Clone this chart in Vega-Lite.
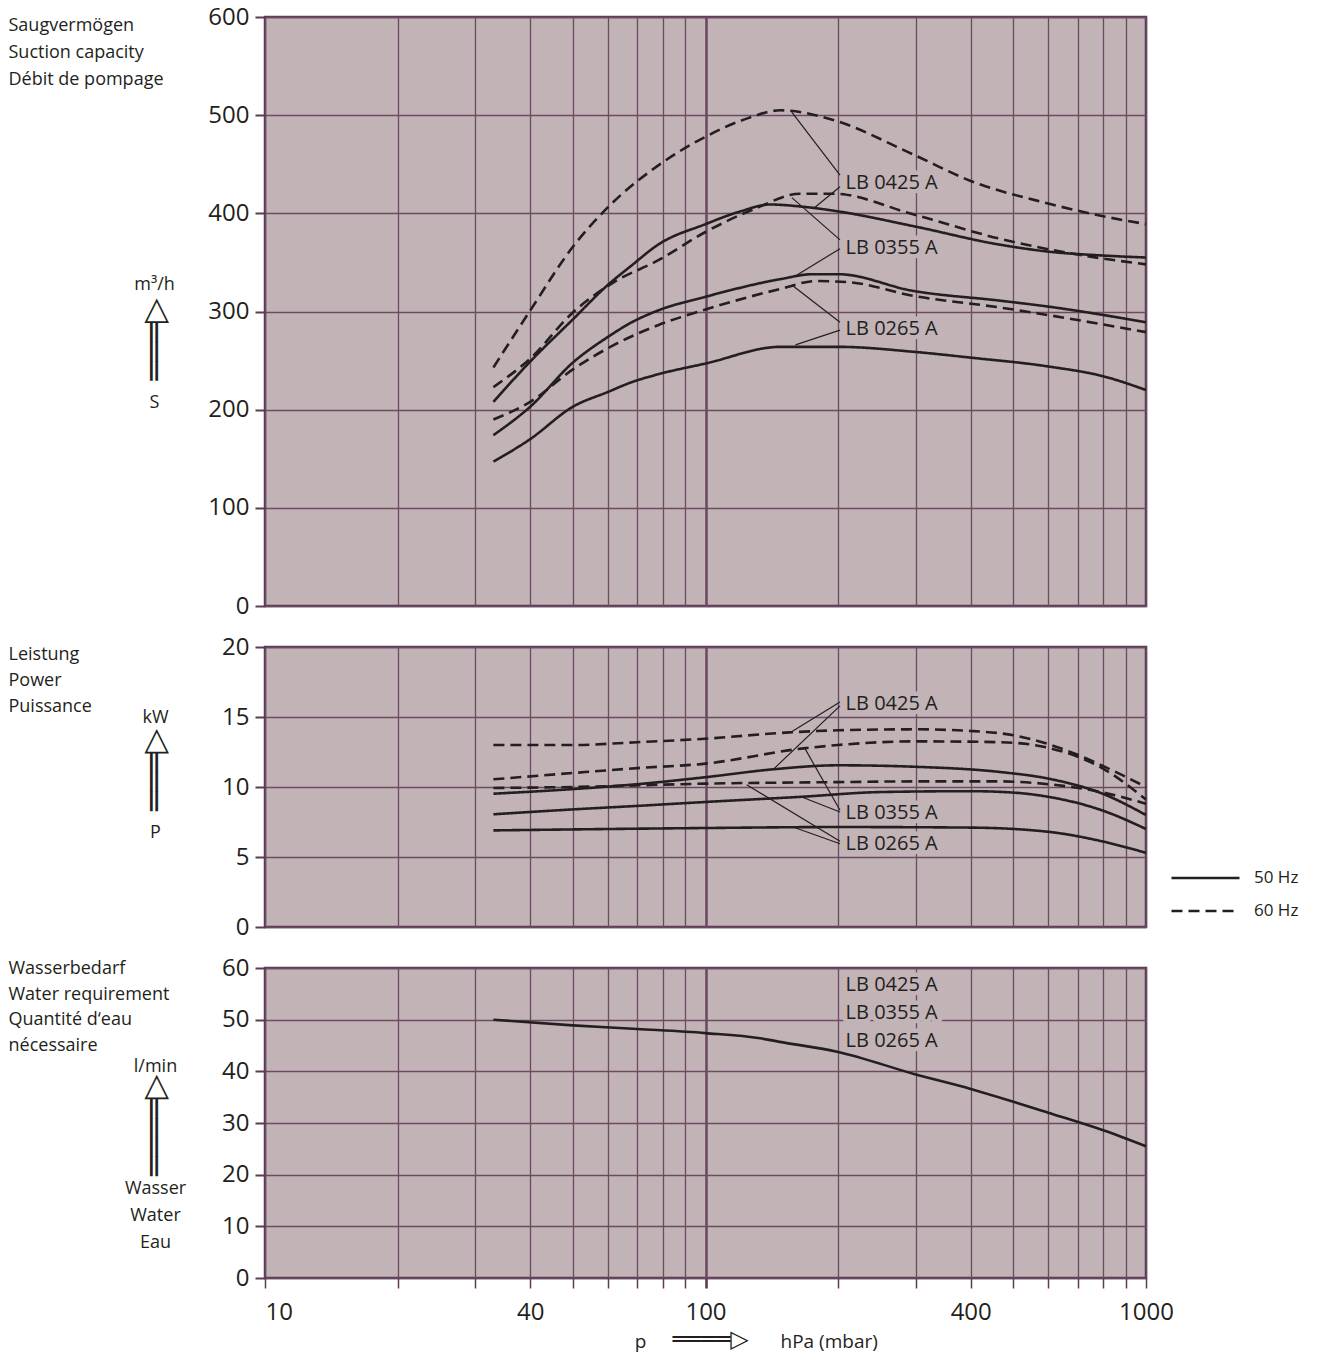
{
  "$schema": "https://vega.github.io/schema/vega-lite/v6.json",
  "background": "white",
  "padding": {"left": 6, "top": 3, "right": 5, "bottom": 0},
  "bounds": "flush",
  "spacing": 41,
  "resolve": {"scale": {"strokeDash": "independent"}, "legend": {"strokeDash": "independent"}},
  "config": {
    "view": {"fill": "#c2b3b7", "stroke": "#5c3b53", "strokeWidth": 2.5},
    "axis": {"labelFont": "Open Sans", "titleFont": "Open Sans", "labelColor": "#231f20", "titleColor": "#231f20", "titleFontWeight": "normal", "tickColor": "#5c3b53", "gridColor": "#6b4b60", "gridOpacity": 1, "domain": false, "labelFontSize": 24, "titleFontSize": 18}
  },
  "datasets": {
    "suction": [
      {"p": 33, "v": 243, "model": "LB 0425 A", "freq": "60 Hz"},
      {"p": 40, "v": 301, "model": "LB 0425 A", "freq": "60 Hz"},
      {"p": 50, "v": 366, "model": "LB 0425 A", "freq": "60 Hz"},
      {"p": 60, "v": 406, "model": "LB 0425 A", "freq": "60 Hz"},
      {"p": 80, "v": 452, "model": "LB 0425 A", "freq": "60 Hz"},
      {"p": 100, "v": 478, "model": "LB 0425 A", "freq": "60 Hz"},
      {"p": 125, "v": 497, "model": "LB 0425 A", "freq": "60 Hz"},
      {"p": 148, "v": 505, "model": "LB 0425 A", "freq": "60 Hz"},
      {"p": 195, "v": 495, "model": "LB 0425 A", "freq": "60 Hz"},
      {"p": 296, "v": 460, "model": "LB 0425 A", "freq": "60 Hz"},
      {"p": 400, "v": 433, "model": "LB 0425 A", "freq": "60 Hz"},
      {"p": 600, "v": 410, "model": "LB 0425 A", "freq": "60 Hz"},
      {"p": 800, "v": 397, "model": "LB 0425 A", "freq": "60 Hz"},
      {"p": 1000, "v": 389, "model": "LB 0425 A", "freq": "60 Hz"},
      {"p": 33, "v": 208, "model": "LB 0425 A", "freq": "50 Hz"},
      {"p": 40, "v": 249, "model": "LB 0425 A", "freq": "50 Hz"},
      {"p": 50, "v": 292, "model": "LB 0425 A", "freq": "50 Hz"},
      {"p": 60, "v": 327, "model": "LB 0425 A", "freq": "50 Hz"},
      {"p": 68, "v": 347, "model": "LB 0425 A", "freq": "50 Hz"},
      {"p": 78, "v": 368, "model": "LB 0425 A", "freq": "50 Hz"},
      {"p": 100, "v": 389, "model": "LB 0425 A", "freq": "50 Hz"},
      {"p": 120, "v": 402, "model": "LB 0425 A", "freq": "50 Hz"},
      {"p": 140, "v": 409, "model": "LB 0425 A", "freq": "50 Hz"},
      {"p": 164, "v": 407, "model": "LB 0425 A", "freq": "50 Hz"},
      {"p": 200, "v": 402, "model": "LB 0425 A", "freq": "50 Hz"},
      {"p": 296, "v": 387, "model": "LB 0425 A", "freq": "50 Hz"},
      {"p": 467, "v": 368, "model": "LB 0425 A", "freq": "50 Hz"},
      {"p": 600, "v": 361, "model": "LB 0425 A", "freq": "50 Hz"},
      {"p": 800, "v": 357, "model": "LB 0425 A", "freq": "50 Hz"},
      {"p": 1000, "v": 355, "model": "LB 0425 A", "freq": "50 Hz"},
      {"p": 33, "v": 223, "model": "LB 0355 A", "freq": "60 Hz"},
      {"p": 40, "v": 252, "model": "LB 0355 A", "freq": "60 Hz"},
      {"p": 50, "v": 299, "model": "LB 0355 A", "freq": "60 Hz"},
      {"p": 62, "v": 330, "model": "LB 0355 A", "freq": "60 Hz"},
      {"p": 78, "v": 352, "model": "LB 0355 A", "freq": "60 Hz"},
      {"p": 100, "v": 381, "model": "LB 0355 A", "freq": "60 Hz"},
      {"p": 130, "v": 405, "model": "LB 0355 A", "freq": "60 Hz"},
      {"p": 164, "v": 420, "model": "LB 0355 A", "freq": "60 Hz"},
      {"p": 195, "v": 420, "model": "LB 0355 A", "freq": "60 Hz"},
      {"p": 296, "v": 399, "model": "LB 0355 A", "freq": "60 Hz"},
      {"p": 467, "v": 374, "model": "LB 0355 A", "freq": "60 Hz"},
      {"p": 700, "v": 358, "model": "LB 0355 A", "freq": "60 Hz"},
      {"p": 1000, "v": 348, "model": "LB 0355 A", "freq": "60 Hz"},
      {"p": 33, "v": 174, "model": "LB 0355 A", "freq": "50 Hz"},
      {"p": 40, "v": 203, "model": "LB 0355 A", "freq": "50 Hz"},
      {"p": 50, "v": 248, "model": "LB 0355 A", "freq": "50 Hz"},
      {"p": 60, "v": 274, "model": "LB 0355 A", "freq": "50 Hz"},
      {"p": 68, "v": 289, "model": "LB 0355 A", "freq": "50 Hz"},
      {"p": 78, "v": 301, "model": "LB 0355 A", "freq": "50 Hz"},
      {"p": 100, "v": 315, "model": "LB 0355 A", "freq": "50 Hz"},
      {"p": 148, "v": 333, "model": "LB 0355 A", "freq": "50 Hz"},
      {"p": 175, "v": 338, "model": "LB 0355 A", "freq": "50 Hz"},
      {"p": 200, "v": 338, "model": "LB 0355 A", "freq": "50 Hz"},
      {"p": 296, "v": 321, "model": "LB 0355 A", "freq": "50 Hz"},
      {"p": 467, "v": 311, "model": "LB 0355 A", "freq": "50 Hz"},
      {"p": 600, "v": 305, "model": "LB 0355 A", "freq": "50 Hz"},
      {"p": 1000, "v": 289, "model": "LB 0355 A", "freq": "50 Hz"},
      {"p": 33, "v": 190, "model": "LB 0265 A", "freq": "60 Hz"},
      {"p": 40, "v": 208, "model": "LB 0265 A", "freq": "60 Hz"},
      {"p": 50, "v": 241, "model": "LB 0265 A", "freq": "60 Hz"},
      {"p": 62, "v": 266, "model": "LB 0265 A", "freq": "60 Hz"},
      {"p": 78, "v": 286, "model": "LB 0265 A", "freq": "60 Hz"},
      {"p": 100, "v": 302, "model": "LB 0265 A", "freq": "60 Hz"},
      {"p": 148, "v": 323, "model": "LB 0265 A", "freq": "60 Hz"},
      {"p": 178, "v": 331, "model": "LB 0265 A", "freq": "60 Hz"},
      {"p": 210, "v": 330, "model": "LB 0265 A", "freq": "60 Hz"},
      {"p": 296, "v": 316, "model": "LB 0265 A", "freq": "60 Hz"},
      {"p": 467, "v": 304, "model": "LB 0265 A", "freq": "60 Hz"},
      {"p": 1000, "v": 279, "model": "LB 0265 A", "freq": "60 Hz"},
      {"p": 33, "v": 147, "model": "LB 0265 A", "freq": "50 Hz"},
      {"p": 40, "v": 170, "model": "LB 0265 A", "freq": "50 Hz"},
      {"p": 50, "v": 203, "model": "LB 0265 A", "freq": "50 Hz"},
      {"p": 60, "v": 218, "model": "LB 0265 A", "freq": "50 Hz"},
      {"p": 68, "v": 228, "model": "LB 0265 A", "freq": "50 Hz"},
      {"p": 78, "v": 236, "model": "LB 0265 A", "freq": "50 Hz"},
      {"p": 100, "v": 247, "model": "LB 0265 A", "freq": "50 Hz"},
      {"p": 148, "v": 264, "model": "LB 0265 A", "freq": "50 Hz"},
      {"p": 200, "v": 264, "model": "LB 0265 A", "freq": "50 Hz"},
      {"p": 296, "v": 259, "model": "LB 0265 A", "freq": "50 Hz"},
      {"p": 400, "v": 253, "model": "LB 0265 A", "freq": "50 Hz"},
      {"p": 600, "v": 244, "model": "LB 0265 A", "freq": "50 Hz"},
      {"p": 800, "v": 234, "model": "LB 0265 A", "freq": "50 Hz"},
      {"p": 1000, "v": 220, "model": "LB 0265 A", "freq": "50 Hz"}
    ],
    "power": [
      {"p": 33, "v": 13.0, "model": "LB 0425 A", "freq": "60 Hz"},
      {"p": 50, "v": 13.0, "model": "LB 0425 A", "freq": "60 Hz"},
      {"p": 70, "v": 13.2, "model": "LB 0425 A", "freq": "60 Hz"},
      {"p": 100, "v": 13.45, "model": "LB 0425 A", "freq": "60 Hz"},
      {"p": 155, "v": 13.9, "model": "LB 0425 A", "freq": "60 Hz"},
      {"p": 200, "v": 14.05, "model": "LB 0425 A", "freq": "60 Hz"},
      {"p": 300, "v": 14.12, "model": "LB 0425 A", "freq": "60 Hz"},
      {"p": 400, "v": 14.0, "model": "LB 0425 A", "freq": "60 Hz"},
      {"p": 500, "v": 13.7, "model": "LB 0425 A", "freq": "60 Hz"},
      {"p": 700, "v": 12.3, "model": "LB 0425 A", "freq": "60 Hz"},
      {"p": 850, "v": 11.1, "model": "LB 0425 A", "freq": "60 Hz"},
      {"p": 1000, "v": 10.0, "model": "LB 0425 A", "freq": "60 Hz"},
      {"p": 33, "v": 10.55, "model": "LB 0355 A", "freq": "60 Hz"},
      {"p": 50, "v": 11.0, "model": "LB 0355 A", "freq": "60 Hz"},
      {"p": 70, "v": 11.35, "model": "LB 0355 A", "freq": "60 Hz"},
      {"p": 100, "v": 11.67, "model": "LB 0355 A", "freq": "60 Hz"},
      {"p": 165, "v": 12.74, "model": "LB 0355 A", "freq": "60 Hz"},
      {"p": 200, "v": 13.0, "model": "LB 0355 A", "freq": "60 Hz"},
      {"p": 300, "v": 13.26, "model": "LB 0355 A", "freq": "60 Hz"},
      {"p": 467, "v": 13.2, "model": "LB 0355 A", "freq": "60 Hz"},
      {"p": 600, "v": 12.8, "model": "LB 0355 A", "freq": "60 Hz"},
      {"p": 800, "v": 11.3, "model": "LB 0355 A", "freq": "60 Hz"},
      {"p": 1000, "v": 9.1, "model": "LB 0355 A", "freq": "60 Hz"},
      {"p": 33, "v": 9.93, "model": "LB 0265 A", "freq": "60 Hz"},
      {"p": 50, "v": 10.0, "model": "LB 0265 A", "freq": "60 Hz"},
      {"p": 100, "v": 10.24, "model": "LB 0265 A", "freq": "60 Hz"},
      {"p": 200, "v": 10.35, "model": "LB 0265 A", "freq": "60 Hz"},
      {"p": 300, "v": 10.4, "model": "LB 0265 A", "freq": "60 Hz"},
      {"p": 467, "v": 10.4, "model": "LB 0265 A", "freq": "60 Hz"},
      {"p": 600, "v": 10.2, "model": "LB 0265 A", "freq": "60 Hz"},
      {"p": 800, "v": 9.6, "model": "LB 0265 A", "freq": "60 Hz"},
      {"p": 1000, "v": 8.8, "model": "LB 0265 A", "freq": "60 Hz"},
      {"p": 33, "v": 9.52, "model": "LB 0425 A", "freq": "50 Hz"},
      {"p": 50, "v": 9.85, "model": "LB 0425 A", "freq": "50 Hz"},
      {"p": 70, "v": 10.2, "model": "LB 0425 A", "freq": "50 Hz"},
      {"p": 100, "v": 10.7, "model": "LB 0425 A", "freq": "50 Hz"},
      {"p": 142, "v": 11.26, "model": "LB 0425 A", "freq": "50 Hz"},
      {"p": 200, "v": 11.55, "model": "LB 0425 A", "freq": "50 Hz"},
      {"p": 296, "v": 11.45, "model": "LB 0425 A", "freq": "50 Hz"},
      {"p": 467, "v": 11.07, "model": "LB 0425 A", "freq": "50 Hz"},
      {"p": 600, "v": 10.6, "model": "LB 0425 A", "freq": "50 Hz"},
      {"p": 800, "v": 9.5, "model": "LB 0425 A", "freq": "50 Hz"},
      {"p": 1000, "v": 8.0, "model": "LB 0425 A", "freq": "50 Hz"},
      {"p": 33, "v": 8.05, "model": "LB 0355 A", "freq": "50 Hz"},
      {"p": 50, "v": 8.4, "model": "LB 0355 A", "freq": "50 Hz"},
      {"p": 70, "v": 8.65, "model": "LB 0355 A", "freq": "50 Hz"},
      {"p": 100, "v": 8.93, "model": "LB 0355 A", "freq": "50 Hz"},
      {"p": 165, "v": 9.3, "model": "LB 0355 A", "freq": "50 Hz"},
      {"p": 250, "v": 9.64, "model": "LB 0355 A", "freq": "50 Hz"},
      {"p": 400, "v": 9.7, "model": "LB 0355 A", "freq": "50 Hz"},
      {"p": 500, "v": 9.6, "model": "LB 0355 A", "freq": "50 Hz"},
      {"p": 600, "v": 9.3, "model": "LB 0355 A", "freq": "50 Hz"},
      {"p": 800, "v": 8.3, "model": "LB 0355 A", "freq": "50 Hz"},
      {"p": 1000, "v": 7.0, "model": "LB 0355 A", "freq": "50 Hz"},
      {"p": 33, "v": 6.9, "model": "LB 0265 A", "freq": "50 Hz"},
      {"p": 100, "v": 7.07, "model": "LB 0265 A", "freq": "50 Hz"},
      {"p": 200, "v": 7.14, "model": "LB 0265 A", "freq": "50 Hz"},
      {"p": 400, "v": 7.1, "model": "LB 0265 A", "freq": "50 Hz"},
      {"p": 600, "v": 6.8, "model": "LB 0265 A", "freq": "50 Hz"},
      {"p": 800, "v": 6.1, "model": "LB 0265 A", "freq": "50 Hz"},
      {"p": 1000, "v": 5.3, "model": "LB 0265 A", "freq": "50 Hz"}
    ],
    "water": [
      {"p": 33, "v": 50.0}, {"p": 50, "v": 48.9}, {"p": 70, "v": 48.2}, {"p": 100, "v": 47.4},
      {"p": 133, "v": 46.4}, {"p": 150, "v": 45.6}, {"p": 199, "v": 43.8}, {"p": 300, "v": 39.4},
      {"p": 400, "v": 36.6}, {"p": 600, "v": 32.0}, {"p": 800, "v": 28.6}, {"p": 1000, "v": 25.5}
    ],
    "lead1": [
      {"p": 202, "v": 439, "p2": 157, "v2": 503},
      {"p": 202, "v": 427, "p2": 177, "v2": 406},
      {"p": 202, "v": 373, "p2": 157, "v2": 416},
      {"p": 202, "v": 364, "p2": 161, "v2": 337},
      {"p": 202, "v": 289, "p2": 157, "v2": 327},
      {"p": 202, "v": 281, "p2": 160, "v2": 266}
    ],
    "lab1": [
      {"p": 208, "v": 431, "label": "LB 0425 A"},
      {"p": 208, "v": 365, "label": "LB 0355 A"},
      {"p": 208, "v": 282.5, "label": "LB 0265 A"}
    ],
    "lead2": [
      {"p": 202, "v": 16.07, "p2": 155.5, "v2": 13.88},
      {"p": 202, "v": 15.79, "p2": 142.5, "v2": 11.26},
      {"p": 202, "v": 8.34, "p2": 168.2, "v2": 12.74},
      {"p": 202, "v": 8.21, "p2": 165.4, "v2": 9.29},
      {"p": 202, "v": 6.12, "p2": 124, "v2": 10.16},
      {"p": 202, "v": 5.95, "p2": 159.7, "v2": 7.09}
    ],
    "lab2": [
      {"p": 208, "v": 15.95, "label": "LB 0425 A"},
      {"p": 208, "v": 8.16, "label": "LB 0355 A"},
      {"p": 208, "v": 5.95, "label": "LB 0265 A"}
    ],
    "lab3": [
      {"p": 208, "v": 56.8, "label": "LB 0425 A"},
      {"p": 208, "v": 51.2, "label": "LB 0355 A"},
      {"p": 208, "v": 45.9, "label": "LB 0265 A"}
    ]
  },
  "vconcat": [
    {
      "width": 881,
      "height": 589,
      "resolve": {"axis": {"x": "independent", "y": "independent"}},
      "layer": [
        {
          "data": {"name": "suction"},
          "mark": {"type": "line", "interpolate": "monotone", "color": "#231f20", "strokeWidth": 2.6},
          "encoding": {
            "x": {"field": "p", "type": "quantitative", "scale": {"type": "log", "domain": [10, 1000], "nice": false},
                  "axis": {"orient": "bottom", "values": [10,20,30,40,50,60,70,80,90,100,200,300,400,500,600,700,800,900,1000], "grid": true, "gridWidth": {"condition": {"test": "datum.value === 100", "value": 2.6}, "value": 1.3}, "ticks": false, "labels": false, "domain": false, "title": null}},
            "y": {"field": "v", "type": "quantitative", "scale": {"domain": [0, 600], "nice": false},
                  "axis": {"orient": "left", "values": [0,100,200,300,400,500,600], "grid": true, "gridWidth": 1.3, "tickSize": 10, "tickWidth": 2, "labelPadding": 6, "labelFlush": false,
                           "title": ["Saugvermögen", "Suction capacity", "Débit de pompage"], "titleAngle": 0, "titleAlign": "left", "titleBaseline": "alphabetic", "titleX": -257, "titleY": 13.5, "titleFontSize": 18, "titleLineHeight": 27}},
            "detail": {"field": "model"},
            "strokeDash": {"field": "freq", "type": "nominal", "scale": {"domain": ["50 Hz", "60 Hz"], "range": [[1, 0], [11, 6]]}, "legend": null}
          }
        },
        {
          "data": {"name": "lead1"},
          "mark": {"type": "rule", "color": "#231f20", "strokeWidth": 1.2},
          "encoding": {
            "x": {"field": "p", "type": "quantitative", "scale": {"type": "log", "domain": [10, 1000], "nice": false}, "axis": null},
            "x2": {"field": "p2"},
            "y": {"field": "v", "type": "quantitative", "scale": {"domain": [0, 600], "nice": false},
                  "axis": {"orient": "left", "domain": false, "ticks": false, "labels": false, "grid": false, "title": ["m³/h", "S"], "titleAngle": 0, "titleAlign": "center", "titleBaseline": "alphabetic", "titleX": -111, "titleY": 272, "titleFontSize": 18, "titleLineHeight": 118}},
            "y2": {"field": "v2"}
          }
        },
        {
          "data": {"name": "lab1"},
          "mark": {"type": "text", "align": "left", "baseline": "middle", "font": "Open Sans", "fontSize": 20, "fill": "#c2b3b7", "stroke": "#c2b3b7", "strokeWidth": 9, "strokeJoin": "round"},
          "encoding": {
            "x": {"field": "p", "type": "quantitative", "scale": {"type": "log", "domain": [10, 1000], "nice": false}, "axis": null},
            "y": {"field": "v", "type": "quantitative", "scale": {"domain": [0, 600], "nice": false}, "axis": null},
            "text": {"field": "label"}
          }
        },
        {
          "data": {"name": "lab1"},
          "mark": {"type": "text", "align": "left", "baseline": "middle", "font": "Open Sans", "fontSize": 20, "color": "#231f20"},
          "encoding": {
            "x": {"field": "p", "type": "quantitative", "scale": {"type": "log", "domain": [10, 1000], "nice": false}, "axis": null},
            "y": {"field": "v", "type": "quantitative", "scale": {"domain": [0, 600], "nice": false},
                  "axis": {"orient": "left", "domain": false, "ticks": false, "labels": false, "grid": false, "title": "═══▷", "titleFont": "DejaVu Sans", "titleAngle": 270, "titleAlign": "center", "titleBaseline": "middle", "titleX": -111, "titleY": 322, "titleFontSize": 32}},
            "text": {"field": "label"}
          }
        }
      ]
    },
    {
      "width": 881,
      "height": 280,
      "resolve": {"axis": {"x": "independent", "y": "independent"}},
      "layer": [
        {
          "data": {"name": "power"},
          "mark": {"type": "line", "interpolate": "monotone", "color": "#231f20", "strokeWidth": 2.6},
          "encoding": {
            "x": {"field": "p", "type": "quantitative", "scale": {"type": "log", "domain": [10, 1000], "nice": false},
                  "axis": {"orient": "bottom", "values": [10,20,30,40,50,60,70,80,90,100,200,300,400,500,600,700,800,900,1000], "grid": true, "gridWidth": {"condition": {"test": "datum.value === 100", "value": 2.6}, "value": 1.3}, "ticks": false, "labels": false, "domain": false, "title": null}},
            "y": {"field": "v", "type": "quantitative", "scale": {"domain": [0, 20], "nice": false},
                  "axis": {"orient": "left", "values": [0,5,10,15,20], "grid": true, "gridWidth": 1.3, "tickSize": 10, "tickWidth": 2, "labelPadding": 6, "labelFlush": false,
                           "title": ["Leistung", "Power", "Puissance"], "titleAngle": 0, "titleAlign": "left", "titleBaseline": "alphabetic", "titleX": -257, "titleY": 12.5, "titleFontSize": 18, "titleLineHeight": 26}},
            "detail": {"field": "model"},
            "strokeDash": {"field": "freq", "type": "nominal", "scale": {"domain": ["50 Hz", "60 Hz"], "range": [[1, 0], [11, 6]]},
                           "legend": {"orient": "none", "legendX": 905, "legendY": 222, "title": null, "symbolType": "stroke", "symbolSize": 4624, "symbolStrokeWidth": 2.5, "symbolStrokeColor": "#231f20", "clipHeight": 18, "rowPadding": 15, "labelFont": "Open Sans", "labelFontSize": 17, "labelColor": "#231f20", "labelOffset": 13, "padding": 0}}
          }
        },
        {
          "data": {"name": "lead2"},
          "mark": {"type": "rule", "color": "#231f20", "strokeWidth": 1.2},
          "encoding": {
            "x": {"field": "p", "type": "quantitative", "scale": {"type": "log", "domain": [10, 1000], "nice": false}, "axis": null},
            "x2": {"field": "p2"},
            "y": {"field": "v", "type": "quantitative", "scale": {"domain": [0, 20], "nice": false},
                  "axis": {"orient": "left", "domain": false, "ticks": false, "labels": false, "grid": false, "title": ["kW", "P"], "titleAngle": 0, "titleAlign": "center", "titleBaseline": "alphabetic", "titleX": -110, "titleY": 75.5, "titleFontSize": 18, "titleLineHeight": 115}},
            "y2": {"field": "v2"}
          }
        },
        {
          "data": {"name": "lab2"},
          "mark": {"type": "text", "align": "left", "baseline": "middle", "font": "Open Sans", "fontSize": 20, "fill": "#c2b3b7", "stroke": "#c2b3b7", "strokeWidth": 9, "strokeJoin": "round"},
          "encoding": {
            "x": {"field": "p", "type": "quantitative", "scale": {"type": "log", "domain": [10, 1000], "nice": false}, "axis": null},
            "y": {"field": "v", "type": "quantitative", "scale": {"domain": [0, 20], "nice": false}, "axis": null},
            "text": {"field": "label"}
          }
        },
        {
          "data": {"name": "lab2"},
          "mark": {"type": "text", "align": "left", "baseline": "middle", "font": "Open Sans", "fontSize": 20, "color": "#231f20"},
          "encoding": {
            "x": {"field": "p", "type": "quantitative", "scale": {"type": "log", "domain": [10, 1000], "nice": false}, "axis": null},
            "y": {"field": "v", "type": "quantitative", "scale": {"domain": [0, 20], "nice": false},
                  "axis": {"orient": "left", "domain": false, "ticks": false, "labels": false, "grid": false, "title": "═══▷", "titleFont": "DejaVu Sans", "titleAngle": 270, "titleAlign": "center", "titleBaseline": "middle", "titleX": -111, "titleY": 122.5, "titleFontSize": 32}},
            "text": {"field": "label"}
          }
        }
      ]
    },
    {
      "width": 881,
      "height": 310,
      "resolve": {"axis": {"x": "independent", "y": "independent"}},
      "layer": [
        {
          "data": {"name": "water"},
          "mark": {"type": "line", "interpolate": "monotone", "color": "#231f20", "strokeWidth": 2.6},
          "encoding": {
            "x": {"field": "p", "type": "quantitative", "scale": {"type": "log", "domain": [10, 1000], "nice": false},
                  "axis": {"orient": "bottom", "values": [10,20,30,40,50,60,70,80,90,100,200,300,400,500,600,700,800,900,1000], "grid": true, "gridWidth": {"condition": {"test": "datum.value === 100", "value": 2.6}, "value": 1.3}, "ticks": true, "tickSize": 10, "tickWidth": {"condition": {"test": "datum.value === 100", "value": 2.6}, "value": 1.5}, "domain": false,
                           "format": "d", "labelExpr": "(datum.value == 10 || datum.value == 40 || datum.value == 100 || datum.value == 400 || datum.value == 1000) ? datum.label : ''",
                           "labelPadding": 12, "labelFlush": false, "labelOverlap": false, "labelAlign": {"condition": {"test": "datum.value === 10", "value": "left"}, "value": "center"},
                           "title": "p", "titleAngle": 0, "titleAlign": "center", "titleBaseline": "middle", "titleX": 375, "titleY": 63, "titleFontSize": 19}},
            "y": {"field": "v", "type": "quantitative", "scale": {"domain": [0, 60], "nice": false},
                  "axis": {"orient": "left", "values": [0,10,20,30,40,50,60], "grid": true, "gridWidth": 1.3, "tickSize": 10, "tickWidth": 2, "labelPadding": 6, "labelFlush": false,
                           "title": ["Wasserbedarf", "Water requirement", "Quantité d‘eau", "nécessaire"], "titleAngle": 0, "titleAlign": "left", "titleBaseline": "alphabetic", "titleX": -257, "titleY": 5.5, "titleFontSize": 18, "titleLineHeight": 25.5}}
          }
        },
        {
          "data": {"name": "lab3"},
          "mark": {"type": "text", "align": "left", "baseline": "middle", "font": "Open Sans", "fontSize": 20, "fill": "#c2b3b7", "stroke": "#c2b3b7", "strokeWidth": 9, "strokeJoin": "round"},
          "encoding": {
            "x": {"field": "p", "type": "quantitative", "scale": {"type": "log", "domain": [10, 1000], "nice": false}, "axis": null},
            "y": {"field": "v", "type": "quantitative", "scale": {"domain": [0, 60], "nice": false}, "axis": null},
            "text": {"field": "label"}
          }
        },
        {
          "data": {"name": "lab3"},
          "transform": [{"filter": "datum.label == 'LB 0425 A'"}],
          "mark": {"type": "text", "align": "left", "baseline": "middle", "font": "Open Sans", "fontSize": 20, "color": "#231f20"},
          "encoding": {
            "x": {"field": "p", "type": "quantitative", "scale": {"type": "log", "domain": [10, 1000], "nice": false},
                  "axis": {"orient": "bottom", "domain": false, "ticks": false, "labels": false, "grid": false, "title": "════▷", "titleFont": "DejaVu Sans", "titleAngle": 0, "titleAlign": "center", "titleBaseline": "middle", "titleX": 445, "titleY": 61, "titleFontSize": 24}},
            "y": {"field": "v", "type": "quantitative", "scale": {"domain": [0, 60], "nice": false},
                  "axis": {"orient": "left", "domain": false, "ticks": false, "labels": false, "grid": false, "title": "l/min", "titleAngle": 0, "titleAlign": "center", "titleBaseline": "middle", "titleX": -110, "titleY": 98, "titleFontSize": 18}},
            "text": {"field": "label"}
          }
        },
        {
          "data": {"name": "lab3"},
          "transform": [{"filter": "datum.label == 'LB 0355 A'"}],
          "mark": {"type": "text", "align": "left", "baseline": "middle", "font": "Open Sans", "fontSize": 20, "color": "#231f20"},
          "encoding": {
            "x": {"field": "p", "type": "quantitative", "scale": {"type": "log", "domain": [10, 1000], "nice": false},
                  "axis": {"orient": "bottom", "domain": false, "ticks": false, "labels": false, "grid": false, "title": "hPa (mbar)", "titleAngle": 0, "titleAlign": "left", "titleBaseline": "middle", "titleX": 515, "titleY": 63, "titleFontSize": 19}},
            "y": {"field": "v", "type": "quantitative", "scale": {"domain": [0, 60], "nice": false},
                  "axis": {"orient": "left", "domain": false, "ticks": false, "labels": false, "grid": false, "title": "════▷", "titleFont": "DejaVu Sans", "titleAngle": 270, "titleAlign": "center", "titleBaseline": "middle", "titleX": -111, "titleY": 157, "titleFontSize": 32}},
            "text": {"field": "label"}
          }
        },
        {
          "data": {"name": "lab3"},
          "transform": [{"filter": "datum.label == 'LB 0265 A'"}],
          "mark": {"type": "text", "align": "left", "baseline": "middle", "font": "Open Sans", "fontSize": 20, "color": "#231f20"},
          "encoding": {
            "x": {"field": "p", "type": "quantitative", "scale": {"type": "log", "domain": [10, 1000], "nice": false}, "axis": null},
            "y": {"field": "v", "type": "quantitative", "scale": {"domain": [0, 60], "nice": false},
                  "axis": {"orient": "left", "domain": false, "ticks": false, "labels": false, "grid": false, "title": ["Wasser", "Water", "Eau"], "titleAngle": 0, "titleAlign": "center", "titleBaseline": "alphabetic", "titleX": -110, "titleY": 225, "titleFontSize": 18, "titleLineHeight": 27}},
            "text": {"field": "label"}
          }
        }
      ]
    }
  ]
}
